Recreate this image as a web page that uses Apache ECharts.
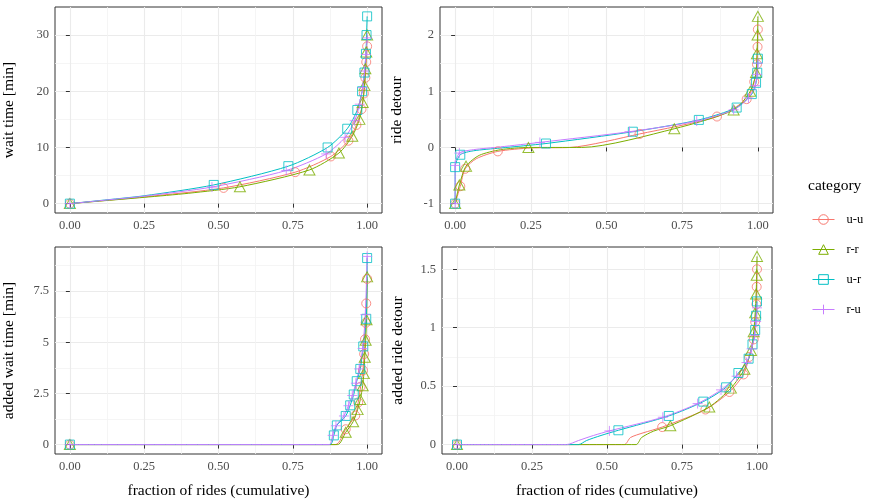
<!DOCTYPE html>
<head>
    <meta charset="utf-8">
    <title>ECharts</title>
    <script src="https://cdn.jsdelivr.net/npm/echarts@6/dist/echarts.min.js"></script>
</head>
<body style="margin:0;background:#fff">
<div id="main" style="height:500px;width:871px"></div>
<script type="text/javascript">
// categories and colours (ggplot hue palette)
var categories = ['u-u', 'r-r', 'u-r', 'r-u'];
var colors = ['#F8766D', '#7CAE00', '#00BFC4', '#C77CFF'];
var symbols = ['circle', 'triangle', 'rect', 'path://M5 0L5 10M0 5L10 5'];

var xTicks = [0, 0.25, 0.5, 0.75, 1];
var xMinor = [0.125, 0.375, 0.625, 0.875];

// wait time [min]  - marker points per category (u-u, r-r, u-r, r-u)
var waitPts = [
    [[0,0],[0.517,2.8],[0.758,5.6],[0.878,8.4],[0.937,11.2],[0.964,14],[0.981,16.8],[0.989,19.6],[0.994,22.4],[0.997,25.2],[1,28]],
    [[0,0],[0.572,3],[0.806,6],[0.905,9],[0.95,12],[0.974,15],[0.985,18],[0.991,21],[0.994,24],[0.997,27],[1,30]],
    [[0,0],[0.484,3.33],[0.735,6.67],[0.867,10],[0.933,13.33],[0.967,16.67],[0.983,20],[0.991,23.33],[0.996,26.67],[0.998,30],[1,33.33]],
    [[0,0],[0.478,2.95],[0.728,5.9],[0.862,8.85],[0.926,11.8],[0.958,14.75],[0.975,17.7],[0.985,20.65],[0.991,23.6],[0.996,26.55],[1,29.5]]
];
// extra points of the curves between markers
var waitBends = [
    [[0.1,0.48],[0.25,1.2]],
    [[0.1,0.45],[0.25,1.12],[0.4,1.85]],
    [[0.1,0.55],[0.25,1.4]],
    [[0.1,0.52],[0.25,1.33]]
];
var waitTicks = [0, 10, 20, 30];
var waitMinor = [5, 15, 25];

// ride detour
var detPts = [
    [[0,-1],[0.017,-0.69],[0.033,-0.38],[0.141,-0.07],[0.609,0.24],[0.865,0.55],[0.963,0.86],[0.988,1.17],[0.997,1.48],[0.999,1.79],[1,2.1]],
    [[0,-1],[0.014,-0.667],[0.036,-0.333],[0.242,0],[0.724,0.333],[0.92,0.667],[0.975,1],[0.994,1.333],[0.997,1.667],[0.999,2],[1,2.333]],
    [[0,-1],[0,-0.35],[0.017,-0.13],[0.3,0.07],[0.587,0.28],[0.805,0.49],[0.93,0.71],[0.98,0.95],[0.994,1.15],[0.998,1.33],[1,1.58]],
    [[0,-1],[0,-0.32],[0.014,-0.1],[0.28,0.09],[0.576,0.28],[0.798,0.47],[0.92,0.67],[0.969,0.88],[0.991,1.1],[0.997,1.3],[1,1.5]]
];
var detBends = [
    [[0.07,-0.2],[0.25,-0.01],[0.38,0]],
    [[0.08,-0.14],[0.15,-0.04],[0.418,0]],
    [[0.06,-0.06],[0.15,-0.01]],
    [[0.06,-0.04],[0.15,0.01]]
];
var detTicks = [-1, 0, 1, 2];
var detMinor = [-0.5, 0.5, 1.5];

// added wait time [min]
var awPts = [
    [[0,0],[0.928,0.75],[0.96,1.42],[0.97,2.06],[0.978,2.83],[0.986,3.63],[0.99,4.43],[0.993,5.15],[0.995,5.95],[0.997,6.9],[1,8.1]],
    [[0,0],[0.928,0.6],[0.953,1.12],[0.968,1.71],[0.977,2.2],[0.985,2.88],[0.989,3.47],[0.992,4.27],[0.995,5.1],[0.998,6.1],[1,8.2]],
    [[0,0],[0.888,0.45],[0.898,0.94],[0.928,1.4],[0.943,1.92],[0.955,2.45],[0.965,3.1],[0.977,3.7],[0.987,4.8],[0.997,6.15],[1,9.12]],
    [[0,0],[0.884,0.45],[0.895,0.92],[0.922,1.4],[0.937,1.9],[0.95,2.4],[0.962,3.0],[0.973,3.7],[0.985,4.7],[0.994,6.35],[1,9.2]]
];
var awBends = [
    [[0.893,0]],
    [[0.9,0]],
    [[0.875,0]],
    [[0.872,0]]
];
var awTicks = [0, 2.5, 5, 7.5];
var awMinor = [1.25, 3.75, 6.25, 8.75];

// added ride detour
var adPts = [
    [[0,0],[0.684,0.15],[0.828,0.3],[0.908,0.45],[0.955,0.6],[0.974,0.75],[0.989,0.9],[0.994,1.05],[0.998,1.2],[0.999,1.35],[1,1.5]],
    [[0,0],[0.711,0.161],[0.841,0.322],[0.913,0.483],[0.958,0.644],[0.98,0.805],[0.989,0.966],[0.994,1.127],[0.997,1.288],[0.999,1.449],[1,1.61]],
    [[0,0],[0.538,0.1225],[0.706,0.245],[0.821,0.3675],[0.897,0.49],[0.938,0.6125],[0.972,0.735],[0.985,0.8575],[0.994,0.98],[0.997,1.1025],[1,1.225]],
    [[0,0],[0.508,0.117],[0.686,0.234],[0.802,0.351],[0.88,0.468],[0.932,0.585],[0.965,0.702],[0.982,0.819],[0.992,0.936],[0.997,1.053],[1,1.17]]
];
var adBends = [
    [[0.558,0],[0.578,0.06],[0.62,0.1]],
    [[0.597,0],[0.615,0.06],[0.655,0.115]],
    [[0.405,0],[0.432,0.035],[0.48,0.078]],
    [[0.365,0],[0.405,0.035],[0.455,0.078]]
];
var adTicks = [0, 0.5, 1, 1.5];
var adMinor = [0.25, 0.75, 1.25];

var FONT = "'Liberation Serif', 'DejaVu Serif', serif";

var panels = [
    {yName: 'wait time [min]', pts: waitPts, bends: waitBends, ticks: waitTicks, minor: waitMinor, xName: '',
        left: 52, top: 7, width: 330, height: 206, gap: 38},
    {yName: 'ride detour', pts: detPts, bends: detBends, ticks: detTicks, minor: detMinor, xName: '',
        left: 440, top: 7, width: 333, height: 206, gap: 35},
    {yName: 'added wait time [min]', pts: awPts, bends: awBends, ticks: awTicks, minor: awMinor, xName: 'fraction of rides (cumulative)',
        left: 52, top: 247, width: 330, height: 210, gap: 38},
    {yName: 'added ride detour', pts: adPts, bends: adBends, ticks: adTicks, minor: adMinor, xName: 'fraction of rides (cumulative)',
        left: 442, top: 247, width: 330, height: 210, gap: 36}
];

function yRange(pts) {
    var lo = Infinity, hi = -Infinity;
    pts.forEach(function (s) {
        s.forEach(function (p) { lo = Math.min(lo, p[1]); hi = Math.max(hi, p[1]); });
    });
    var d = (hi - lo) * 0.05;
    return [lo - d, hi + d];
}

var grids = [], xAxes = [], yAxes = [], lineSeries = [], pointSeries = [];

panels.forEach(function (p, i) {
    var r = yRange(p.pts);
    grids.push({left: p.left, top: p.top, width: p.width, height: p.height,
        show: true, borderColor: '#333333', borderWidth: 1, backgroundColor: '#fff'});
    // main axes
    xAxes.push({type: 'value', gridIndex: i, min: -0.05, max: 1.05,
        axisLine: {show: false},
        axisTick: {show: true, length: 4, lineStyle: {color: '#333333'}, customValues: xTicks},
        axisLabel: {customValues: xTicks, formatter: function (v) { return v.toFixed(2); },
            color: '#4D4D4D', fontFamily: FONT, fontSize: 12.5, margin: 6},
        splitLine: {show: true, lineStyle: {color: '#EBEBEB', width: 1.1}},
        name: p.xName, nameLocation: 'middle', nameGap: 29,
        nameTextStyle: {fontFamily: FONT, fontSize: 15.5, color: '#000'}});
    // minor grid axis
    xAxes.push({type: 'value', gridIndex: i, min: -0.05, max: 1.05, position: 'bottom',
        axisLine: {show: false}, axisTick: {show: false, customValues: xMinor},
        axisLabel: {show: false},
        splitLine: {show: true, lineStyle: {color: '#F3F3F3', width: 0.8}}});
    yAxes.push({type: 'value', gridIndex: i, min: r[0], max: r[1], position: 'left',
        axisLine: {show: false},
        axisTick: {show: true, length: 4, lineStyle: {color: '#333333'}, customValues: p.ticks},
        axisLabel: {customValues: p.ticks, formatter: function (v) { return String(v); },
            color: '#4D4D4D', fontFamily: FONT, fontSize: 12.5, margin: 6},
        splitLine: {show: true, lineStyle: {color: '#EBEBEB', width: 1.1}},
        name: p.yName, nameLocation: 'middle', nameGap: p.gap,
        nameTextStyle: {fontFamily: FONT, fontSize: 15.5, color: '#000'}});
    yAxes.push({type: 'value', gridIndex: i, min: r[0], max: r[1], position: 'left',
        axisLine: {show: false}, axisTick: {show: false, customValues: p.minor},
        axisLabel: {show: false},
        splitLine: {show: true, lineStyle: {color: '#F3F3F3', width: 0.8}}});

    categories.forEach(function (c, k) {
        var curve = p.pts[k].concat(p.bends[k]).sort(function (a, b) {
            return a[0] - b[0] || a[1] - b[1];
        });
        lineSeries.push({name: c, type: 'line', xAxisIndex: 2 * i, yAxisIndex: 2 * i,
            data: curve, showSymbol: false, symbol: symbols[k],
            smooth: 0.25,
            lineStyle: {color: colors[k], width: 1},
            itemStyle: {color: colors[k]}, z: 2, silent: true});
        pointSeries.push({name: c, type: 'scatter', xAxisIndex: 2 * i, yAxisIndex: 2 * i,
            data: p.pts[k], symbol: symbols[k],
            symbolSize: k === 1 ? [11, 10] : (k === 3 ? 10 : 9),
            itemStyle: {color: 'rgba(0,0,0,0)', borderColor: colors[k], borderWidth: 1},
            z: 3, silent: true});
    });
});

var myChart = echarts.init(document.getElementById('main'));
var option = {
    backgroundColor: '#fff',
    animation: false,
    title: {text: 'category', left: 808, top: 178, padding: 0,
        textStyle: {fontFamily: FONT, fontSize: 15.5, fontWeight: 'normal', color: '#000'}},
    legend: {
        orient: 'vertical', left: 812, top: 213, padding: 0,
        itemWidth: 22, itemHeight: 12, itemGap: 17,
        textStyle: {fontFamily: FONT, fontSize: 12.5, color: '#000', padding: [0, 0, 0, 7]},
        data: categories.map(function (c, k) {
            return {name: c,
                itemStyle: {color: 'rgba(0,0,0,0)', borderColor: colors[k], borderWidth: 1},
                lineStyle: {color: colors[k], width: 1}};
        })
    },
    grid: grids,
    xAxis: xAxes,
    yAxis: yAxes,
    series: lineSeries.concat(pointSeries)
};
myChart.setOption(option);
</script>
</body>
